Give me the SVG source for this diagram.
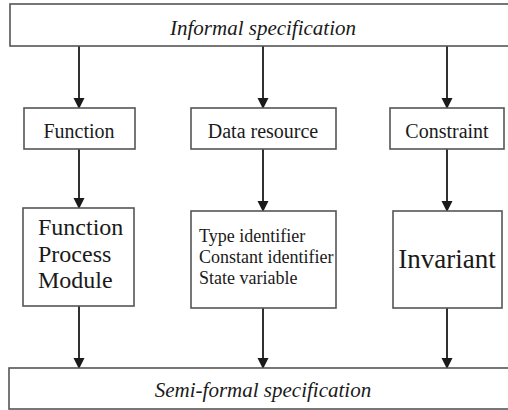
<svg xmlns="http://www.w3.org/2000/svg" width="508" height="410" viewBox="0 0 508 410">
<defs>
<style>
.box{fill:#fff;stroke:#555;stroke-width:1.6}
text{font-family:'Liberation Serif','DejaVu Serif',serif;fill:#1a1a1a}
.i{font-style:italic}
.ln{stroke:#1a1a1a;stroke-width:1.8;fill:none}
</style>
<marker id="ah" markerWidth="11" markerHeight="12" refX="10" refY="5.5" orient="auto" markerUnits="userSpaceOnUse" viewBox="0 0 11 11">
<path d="M0,0 L11,5.5 L0,11 Z" fill="#1a1a1a"/>
</marker>
</defs>
<rect width="508" height="410" fill="#fff"/>
<g id="connectors">
<line class="ln" x1="79" y1="46" x2="79" y2="108" marker-end="url(#ah)"/>
<line class="ln" x1="263" y1="46" x2="263" y2="108" marker-end="url(#ah)"/>
<line class="ln" x1="447" y1="46" x2="447" y2="108" marker-end="url(#ah)"/>
<line class="ln" x1="79" y1="149" x2="79" y2="208" marker-end="url(#ah)"/>
<line class="ln" x1="263" y1="149" x2="263" y2="211" marker-end="url(#ah)"/>
<line class="ln" x1="447" y1="149" x2="447" y2="211" marker-end="url(#ah)"/>
<line class="ln" x1="79" y1="306" x2="79" y2="368" marker-end="url(#ah)"/>
<line class="ln" x1="263" y1="308" x2="263" y2="368" marker-end="url(#ah)"/>
<line class="ln" x1="447" y1="308" x2="447" y2="368" marker-end="url(#ah)"/>
</g>
<g id="informal">
<rect class="box" x="10" y="4" width="510" height="42"/>
<text class="i" x="263" y="35" font-size="21" text-anchor="middle">Informal specification</text>
</g>
<g id="function">
<rect class="box" x="24" y="108" width="111" height="41"/>
<text x="79" y="138" font-size="20" text-anchor="middle">Function</text>
</g>
<g id="data-resource">
<rect class="box" x="191" y="108" width="145" height="41"/>
<text x="263" y="138" font-size="20" text-anchor="middle">Data resource</text>
</g>
<g id="constraint">
<rect class="box" x="390" y="108" width="114" height="41"/>
<text x="447" y="138" font-size="20" text-anchor="middle">Constraint</text>
</g>
<g id="function-process-module">
<rect class="box" x="23" y="208" width="111" height="98"/>
<text font-size="24"><tspan x="38" y="235">Function</tspan><tspan x="38" y="262">Process</tspan><tspan x="38" y="288">Module</tspan></text>
</g>
<g id="identifiers">
<rect class="box" x="191" y="211" width="145" height="97"/>
<text font-size="18"><tspan x="199" y="242">Type identifier</tspan><tspan x="199" y="263">Constant identifier</tspan><tspan x="199" y="284">State variable</tspan></text>
</g>
<g id="invariant">
<rect class="box" x="393" y="211" width="109" height="97"/>
<text x="447" y="268" font-size="27" text-anchor="middle">Invariant</text>
</g>
<g id="semi-formal">
<rect class="box" x="9" y="368" width="510" height="41"/>
<text class="i" x="263" y="397" font-size="21" text-anchor="middle">Semi-formal specification</text>
</g>
</svg>
